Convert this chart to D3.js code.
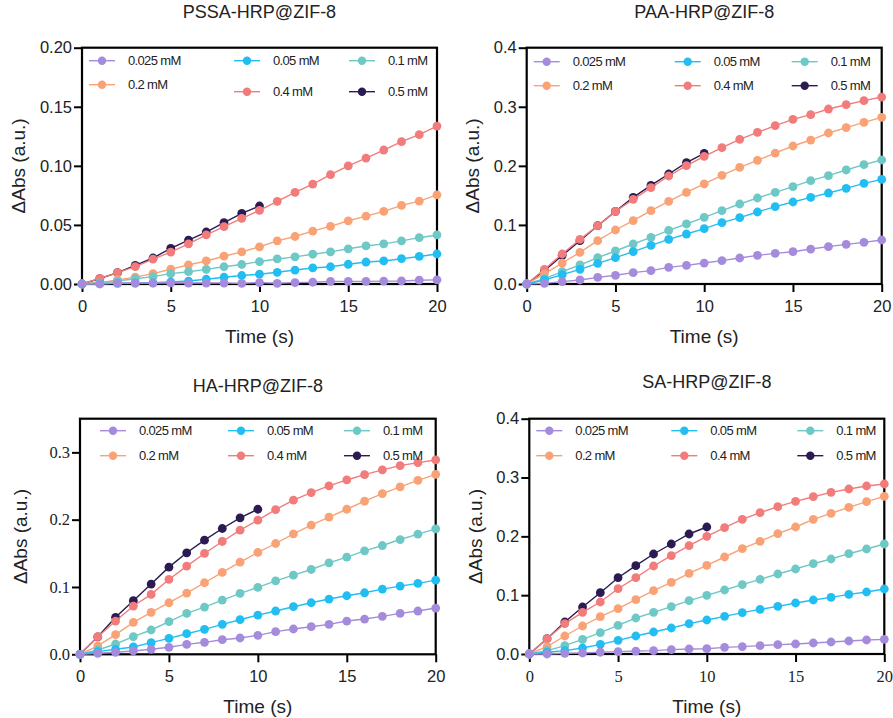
<!DOCTYPE html>
<html>
<head>
<meta charset="utf-8">
<script src="https://cdn.jsdelivr.net/npm/d3@7"></script>
<style>
  body { margin: 0; background: #fff; }
  text { font-family: "Liberation Sans", Arial, sans-serif; fill: #222; }
</style>
</head>
<body>
<div id="chart-area"></div>
<script>
// time points (s)
var time = [0,1,2,3,4,5,6,7,8,9,10,11,12,13,14,15,16,17,18,19,20];
var concLabels = ["0.025 mM", "0.05 mM", "0.1 mM", "0.2 mM", "0.4 mM", "0.5 mM"];
var colors = ["#a58bdc", "#22bef2", "#6ec8c6", "#f9a275", "#f27b7b", "#2b1b52"];

// series order follows concLabels; the 0.5 mM run stops at 10 s
var pssa = [
  [0,0,0.0008,0.0008,0.0008,0.001,0.0008,0.0008,0.0008,0.0005,0.0012,0.0006,0.0012,0.0015,0.0022,0.0022,0.0022,0.0024,0.0026,0.0032,0.0035],
  [0,0.0003,0.0005,0.0007,0.001,0.0017,0.0025,0.004,0.0057,0.0072,0.0083,0.0099,0.0118,0.0136,0.0146,0.0167,0.0186,0.0195,0.0214,0.0233,0.0254],
  [0,0.001,0.0025,0.0045,0.0062,0.0088,0.0104,0.0124,0.0146,0.0165,0.019,0.0212,0.023,0.0252,0.0272,0.0298,0.0322,0.034,0.0365,0.0392,0.0415],
  [0,0.001,0.0035,0.0058,0.0088,0.0125,0.0162,0.0195,0.0235,0.0272,0.0315,0.0365,0.0402,0.0448,0.0488,0.0535,0.0575,0.0615,0.0665,0.0702,0.0755],
  [0,0.0048,0.0096,0.0147,0.021,0.027,0.034,0.0415,0.0485,0.0556,0.0623,0.07,0.0776,0.0846,0.0925,0.0999,0.1066,0.1134,0.1205,0.1264,0.1337],
  [0,0.0045,0.0096,0.0158,0.022,0.0302,0.0372,0.044,0.0519,0.0598,0.066]
];
var paa = [
  [0,0.001,0.004,0.0068,0.0113,0.0147,0.0192,0.0226,0.0282,0.0316,0.0355,0.0395,0.044,0.0485,0.0519,0.0547,0.0592,0.0632,0.0671,0.0705,0.0745],
  [0,0.0068,0.0158,0.0248,0.035,0.0446,0.0547,0.0654,0.0756,0.0846,0.0937,0.1038,0.1123,0.1219,0.1309,0.1388,0.1467,0.154,0.1619,0.1704,0.1771],
  [0,0.009,0.0209,0.0322,0.0446,0.0559,0.0677,0.079,0.0908,0.1016,0.1128,0.1241,0.1354,0.1456,0.1551,0.1647,0.1749,0.1834,0.193,0.202,0.2099],
  [0,0.017,0.0355,0.0536,0.0733,0.0914,0.1072,0.1241,0.1399,0.1551,0.1693,0.1839,0.1975,0.2093,0.2217,0.2336,0.2437,0.2556,0.2646,0.2736,0.2821],
  [0,0.0248,0.0508,0.0756,0.0987,0.123,0.1433,0.163,0.1828,0.2003,0.216,0.2307,0.2449,0.2567,0.268,0.2787,0.2866,0.2962,0.3035,0.3103,0.3165],
  [0,0.0226,0.0485,0.0733,0.0987,0.123,0.1467,0.167,0.1862,0.2054,0.2212]
];
var ha = [
  [0,0.0015,0.003,0.005,0.0074,0.0104,0.0148,0.0178,0.0217,0.0242,0.0282,0.0336,0.0376,0.041,0.0445,0.0494,0.0524,0.0564,0.0608,0.0643,0.0687],
  [0,0.004,0.0074,0.0109,0.0173,0.0237,0.0306,0.0371,0.0445,0.0514,0.0583,0.0643,0.0707,0.0766,0.0821,0.087,0.0914,0.0969,0.1013,0.1053,0.1102],
  [0,0.0064,0.0153,0.0262,0.0361,0.0484,0.0608,0.0702,0.0806,0.0905,0.0994,0.1092,0.1176,0.126,0.1359,0.1443,0.1537,0.1616,0.1705,0.1785,0.1864],
  [0,0.0124,0.0292,0.0475,0.0623,0.0766,0.091,0.1063,0.1216,0.1369,0.1513,0.1646,0.1789,0.1918,0.2037,0.2155,0.2274,0.2388,0.2486,0.2585,0.2674],
  [0,0.0262,0.0494,0.0717,0.089,0.1112,0.131,0.1498,0.1676,0.1844,0.1992,0.215,0.2289,0.2402,0.2501,0.259,0.2669,0.2739,0.2803,0.2847,0.2887],
  [0,0.026,0.0549,0.0796,0.1043,0.1295,0.1508,0.1696,0.1869,0.2027,0.2155]
];
var sa = [
  [0,0,0.001,0.0017,0.003,0.004,0.005,0.0057,0.0074,0.0085,0.009,0.0113,0.0125,0.0142,0.0159,0.017,0.0187,0.0204,0.0221,0.0238,0.0249],
  [0,0.003,0.0057,0.0102,0.0164,0.0232,0.0306,0.0374,0.0442,0.0516,0.0578,0.064,0.0703,0.0759,0.081,0.0867,0.0918,0.0963,0.1014,0.1054,0.1105],
  [0,0.0057,0.0142,0.0249,0.0363,0.0487,0.0612,0.0708,0.0805,0.0907,0.0997,0.1088,0.1178,0.1269,0.136,0.1445,0.1535,0.1615,0.1705,0.1785,0.187],
  [0,0.0125,0.0306,0.0476,0.0635,0.0771,0.0924,0.1076,0.1218,0.1371,0.1507,0.1649,0.179,0.1915,0.2045,0.2159,0.2289,0.2391,0.2493,0.2589,0.268],
  [0,0.026,0.0516,0.0708,0.0884,0.111,0.1297,0.1496,0.1671,0.1841,0.2,0.2147,0.2289,0.2402,0.2504,0.2595,0.2674,0.2748,0.2805,0.2856,0.289],
  [0,0.026,0.0544,0.0799,0.1042,0.1297,0.1501,0.17,0.187,0.204,0.2159]
];

var sans = "'Liberation Sans', Arial, sans-serif";
var serif = "'Liberation Serif', 'Times New Roman', serif";

var svg = d3.select("#chart-area").append("svg")
  .attr("width", 893)
  .attr("height", 718);

var panels = [
  { title: "PSSA-HRP@ZIF-8", data: pssa, left: 82, right: 437, top: 47.7, bottom: 284,
    yMax: 0.2, yTicks: [0,0.05,0.1,0.15,0.2], yFmt: ".2f", yFont: sans, xFont: sans, titleY: 18, yLabelX: 18,
    legCols: [20, 165, 280], legRows: [[13,13,13],[37,44,44]] },
  { title: "PAA-HRP@ZIF-8", data: paa, left: 526.7, right: 881.7, top: 47.7, bottom: 284,
    yMax: 0.4, yTicks: [0,0.1,0.2,0.3,0.4], yFmt: ".1f", yFont: sans, xFont: sans, titleY: 18, yLabelX: 472,
    legCols: [20, 161, 278], legRows: [[14,14,14],[38,38,38]] },
  { title: "HA-HRP@ZIF-8", data: ha, left: 80, right: 435.7, top: 418.7, bottom: 654.3,
    yMax: 0.35, yTicks: [0,0.1,0.2,0.3], yFmt: ".1f", yFont: serif, xFont: sans, titleY: 391.5, yLabelX: 20,
    legCols: [33, 161, 277], legRows: [[12,12,12],[37,37,37]] },
  { title: "SA-HRP@ZIF-8", data: sa, left: 529.3, right: 884.3, top: 418.7, bottom: 654,
    yMax: 0.4, yTicks: [0,0.1,0.2,0.3,0.4], yFmt: ".1f", yFont: sans, xFont: serif, titleY: 388, yLabelX: 475,
    legCols: [20, 155, 281], legRows: [[12,12,12],[37,37,37]] }
];

panels.forEach(function(p) {
  var g = svg.append("g");
  var x = d3.scaleLinear().domain([0, 20]).range([p.left, p.right]);
  var y = d3.scaleLinear().domain([0, p.yMax]).range([p.bottom, p.top]);

  // axes
  var xAxis = g.append("g")
    .attr("transform", "translate(0," + p.bottom + ")")
    .call(d3.axisBottom(x).tickValues([0,5,10,15,20]).tickSize(8).tickPadding(8).tickSizeOuter(0));
  var yAxis = g.append("g")
    .attr("transform", "translate(" + p.left + ",0)")
    .call(d3.axisLeft(y).tickValues(p.yTicks).tickFormat(d3.format(p.yFmt)).tickSize(8).tickPadding(2).tickSizeOuter(0));
  [xAxis, yAxis].forEach(function(a) {
    a.select(".domain").remove();
    a.selectAll(".tick line").attr("stroke", "#000").attr("stroke-width", 2);
    a.selectAll(".tick text").attr("fill", "#222").style("font-size", "16.5px");
  });
  xAxis.selectAll(".tick text").style("font-family", p.xFont);
  yAxis.selectAll(".tick text").style("font-family", p.yFont);

  // frame
  g.append("rect")
    .attr("x", p.left).attr("y", p.top)
    .attr("width", p.right - p.left).attr("height", p.bottom - p.top)
    .attr("fill", "none").attr("stroke", "#000").attr("stroke-width", 2.2);

  // series, drawn from highest concentration down so 0.025 mM sits on top
  var line = d3.line().x(function(d, i) { return x(time[i]); }).y(function(d) { return y(d); });
  d3.range(p.data.length - 1, -1, -1).forEach(function(s) {
    var vals = p.data[s];
    g.append("path").datum(vals)
      .attr("d", line).attr("fill", "none")
      .attr("stroke", colors[s]).attr("stroke-width", 1.4);
    g.selectAll(null).data(vals).enter().append("circle")
      .attr("cx", function(d, i) { return x(time[i]); })
      .attr("cy", function(d) { return y(d); })
      .attr("r", 4.4)
      .attr("fill", colors[s]);
  });

  // legend: 3 columns x 2 rows
  concLabels.forEach(function(lab, i) {
    var col = i % 3, row = Math.floor(i / 3);
    var cx = p.left + p.legCols[col];
    var cy = p.top + p.legRows[row][col];
    g.append("line").attr("x1", cx - 13).attr("x2", cx + 13).attr("y1", cy).attr("y2", cy)
      .attr("stroke", colors[i]).attr("stroke-width", 1.4);
    g.append("circle").attr("cx", cx).attr("cy", cy).attr("r", 4.2).attr("fill", colors[i]);
    g.append("text").attr("x", cx + 26).attr("y", cy).attr("dy", "0.36em")
      .style("font-size", "13px").style("letter-spacing", "-0.65px").text(lab);
  });

  // titles
  g.append("text").attr("x", (p.left + p.right) / 2).attr("y", p.titleY)
    .attr("text-anchor", "middle").style("font-size", "18px").text(p.title);
  g.append("text").attr("x", (p.left + p.right) / 2).attr("y", p.bottom + 59)
    .attr("text-anchor", "middle").style("font-size", "19px").text("Time (s)");
  g.append("text")
    .attr("transform", "translate(" + (p.yLabelX + 7) + "," + ((p.top + p.bottom) / 2) + ") rotate(-90)")
    .attr("text-anchor", "middle").style("font-size", "19px").text("ΔAbs (a.u.)");
});
</script>
</body>
</html>
